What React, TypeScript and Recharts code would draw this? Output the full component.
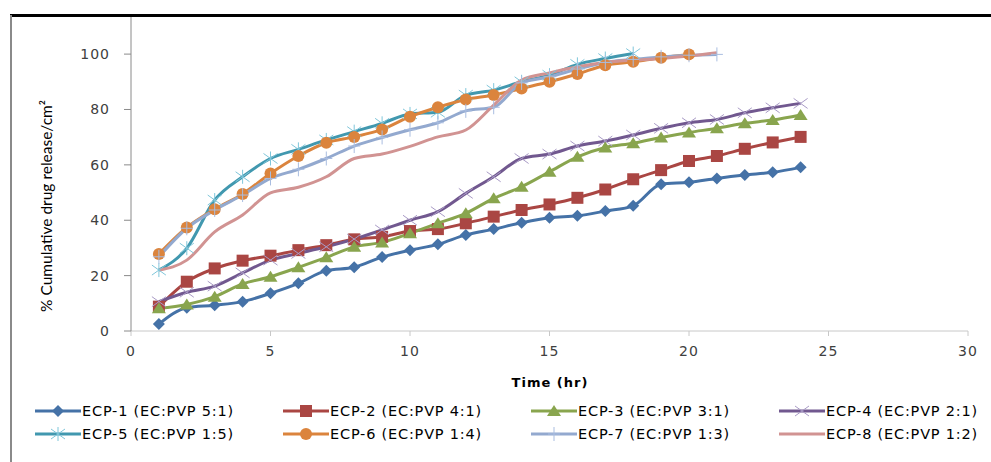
import React from "react";
import { LineChart, Line, XAxis, YAxis } from "recharts";

// time points (hr) and cumulative release values
const hours = [1, 2, 3, 4, 5, 6, 7, 8, 9, 10, 11, 12, 13, 14, 15, 16, 17, 18, 19, 20, 21, 22, 23, 24];

const ecp1 = [2.5, 8.4, 9.3, 10.6, 13.6, 17.2, 21.8, 23, 26.7, 29.2, 31.3, 34.7, 36.8, 39.1, 40.9, 41.6, 43.3, 45.2, 53, 53.7, 55.1, 56.3, 57.3, 59.1];
const ecp2 = [8.8, 17.8, 22.6, 25.4, 27.2, 29.2, 31, 33.1, 34, 36.1, 36.8, 38.9, 41.3, 43.7, 45.7, 48.1, 51.1, 54.8, 58.1, 61.4, 63.2, 65.8, 68.1, 70.1];
const ecp3 = [8.2, 9.6, 12.4, 17, 19.6, 23, 26.6, 30.4, 32, 35.3, 38.9, 42.5, 47.9, 52.1, 57.5, 62.9, 66.3, 67.8, 69.9, 71.7, 73.2, 75, 76.2, 78];
const ecp4 = [10.6, 14, 16.2, 21, 25.6, 28, 30.4, 33.2, 36.5, 40, 43.1, 49.7, 55.7, 62.3, 63.9, 66.8, 68.6, 70.8, 73.2, 75.2, 76.4, 78.8, 80.6, 82.2];
const ecp5 = [22, 29.9, 47.3, 55.7, 62.3, 65.6, 69, 72, 75, 78.4, 79, 85.2, 87, 90, 92.4, 96.3, 98.4, 100.2];
const ecp6 = [27.8, 37.4, 44, 49.5, 56.9, 63.2, 68, 70.1, 72.8, 77.4, 80.8, 83.6, 85.2, 87.6, 90, 92.8, 96, 97.2, 98.7, 99.9];
const ecp7 = [26.8, 37.1, 43.7, 49.1, 55.1, 58.4, 62.3, 66.8, 69.9, 72.7, 75.2, 79.5, 80.8, 89.6, 91.8, 94.6, 97, 98.1, 99, 99.6, 99.9];
const ecp8 = [22, 25.6, 35.8, 41.9, 49.9, 51.9, 55.7, 62.3, 63.9, 66.7, 70.1, 72.6, 81.6, 90.6, 93.2, 95.4, 97, 97.8, 98.4, 99.3, 100.5];

const seriesNames = [
  "ECP-1 (EC:PVP 5:1)",
  "ECP-2 (EC:PVP 4:1)",
  "ECP-3 (EC:PVP 3:1)",
  "ECP-4 (EC:PVP 2:1)",
  "ECP-5 (EC:PVP 1:5)",
  "ECP-6 (EC:PVP 1:4)",
  "ECP-7 (EC:PVP 1:3)",
  "ECP-8 (EC:PVP 1:2)",
];
const seriesValues = [ecp1, ecp2, ecp3, ecp4, ecp5, ecp6, ecp7, ecp8];
const seriesColors = ["#4572A7", "#AA4643", "#89A54E", "#71588F", "#4198AF", "#DB843D", "#93A9CF", "#D19392"];
const markerColors = ["#4572A7", "#AA4643", "#89A54E", "#A99BC6", "#7FC6DA", "#DB843D", "#A9BDE0", "#D19392"];
const markerTypes = ["diamond", "square", "triangle", "x", "star", "circle", "plus", "none"];

const xTicks = [0, 5, 10, 15, 20, 25, 30];
const yTicks = [0, 20, 40, 60, 80, 100];

const series = seriesValues.map((vals, i) => ({
  name: seriesNames[i],
  color: seriesColors[i],
  markerColor: markerColors[i],
  marker: markerTypes[i],
  data: vals.map((v, j) => ({ t: hours[j], v })),
}));

function Marker({ type, cx, cy, color }: { type: string; cx: number; cy: number; color: string }) {
  if (type === "diamond")
    return <polygon points={`${cx},${cy - 6} ${cx + 6},${cy} ${cx},${cy + 6} ${cx - 6},${cy}`} fill={color} />;
  if (type === "square") return <rect x={cx - 6} y={cy - 6} width={12} height={12} fill={color} />;
  if (type === "triangle")
    return <polygon points={`${cx},${cy - 6} ${cx + 7},${cy + 5} ${cx - 7},${cy + 5}`} fill={color} />;
  if (type === "circle") return <circle cx={cx} cy={cy} r={6} fill={color} />;
  if (type === "x")
    return (
      <g stroke={color} strokeWidth={1}>
        <line x1={cx - 7} y1={cy - 5} x2={cx + 7} y2={cy + 5} />
        <line x1={cx - 7} y1={cy + 5} x2={cx + 7} y2={cy - 5} />
      </g>
    );
  if (type === "star")
    return (
      <g stroke={color} strokeWidth={1}>
        <line x1={cx - 7} y1={cy - 5} x2={cx + 7} y2={cy + 5} />
        <line x1={cx - 7} y1={cy + 5} x2={cx + 7} y2={cy - 5} />
        <line x1={cx} y1={cy - 7} x2={cx} y2={cy + 7} />
      </g>
    );
  if (type === "plus")
    return (
      <g stroke={color} strokeWidth={1}>
        <line x1={cx} y1={cy - 7} x2={cx} y2={cy + 7} />
        <line x1={cx - 6} y1={cy} x2={cx + 6} y2={cy} />
      </g>
    );
  return null;
}

const tickStyle = { fontFamily: "DejaVu Sans", fontSize: 14, fill: "#404040", letterSpacing: 1 };

export default function App() {
  return (
    <div style={{ position: "absolute", left: 0, top: 0, width: 991, height: 462, background: "#fff", overflow: "hidden" }}>
      {/* frame lines */}
      <div style={{ position: "absolute", left: 10, top: 14, width: 981, height: 3, background: "#000" }} />
      <div style={{ position: "absolute", left: 10, top: 15, width: 2, height: 447, background: "#8a8a8a" }} />

      <LineChart width={991} height={462} margin={{ top: 17, right: 23, bottom: 71, left: 0 }}>
        <XAxis
          type="number"
          dataKey="t"
          domain={[0, 30]}
          ticks={xTicks}
          stroke="#c8c8c8"
          tickSize={5}
          tickMargin={10}
          tick={tickStyle}
          height={60}
          allowDuplicatedCategory={false}
          label={{
            content: () => (
              <text x={550} y={387} textAnchor="middle" fontFamily="DejaVu Sans" fontWeight="bold" fontSize={13} letterSpacing={1} fill="#000">
                Time (hr)
              </text>
            ),
          }}
        />
        <YAxis
          type="number"
          domain={[0, 113.4]}
          ticks={yTicks}
          stroke="#8a8a8a"
          tickSize={7}
          tickMargin={14}
          tick={tickStyle}
          width={131}
          allowDataOverflow
          label={{
            content: () => (
              <text
                x={52}
                y={206}
                transform="rotate(-90 52 206)"
                textAnchor="middle"
                fontFamily="Lato"
                fontSize={15.5}
                fill="#000"
              >
                % Cumulative drug release/cm²
              </text>
            ),
          }}
        />
        {series.map((s) => (
          <Line
            key={s.name}
            data={s.data}
            dataKey="v"
            name={s.name}
            type="monotone"
            stroke={s.color}
            strokeWidth={3}
            isAnimationActive={false}
            dot={(p: any) => (
              <Marker key={`${s.name}-${p.index}`} type={s.marker} cx={p.cx} cy={p.cy} color={s.markerColor} />
            )}
            activeDot={false}
          />
        ))}
      </LineChart>

      {/* legend */}
      <div style={{ position: "absolute", left: 35, top: 402, width: 960, display: "grid", gridTemplateColumns: "repeat(4, 248px)", rowGap: 5 }}>
        {series.map((s) => (
          <div key={s.name} style={{ display: "flex", alignItems: "center", height: 18 }}>
            <svg width={46} height={16}>
              <line x1={0} y1={8} x2={46} y2={8} stroke={s.color} strokeWidth={3} />
              <Marker type={s.marker} cx={23} cy={8} color={s.markerColor} />
            </svg>
            <span style={{ fontFamily: "DejaVu Sans", fontSize: 14.5, letterSpacing: 0.8, color: "#000", marginLeft: 1, whiteSpace: "nowrap" }}>
              {s.name}
            </span>
          </div>
        ))}
      </div>
    </div>
  );
}
